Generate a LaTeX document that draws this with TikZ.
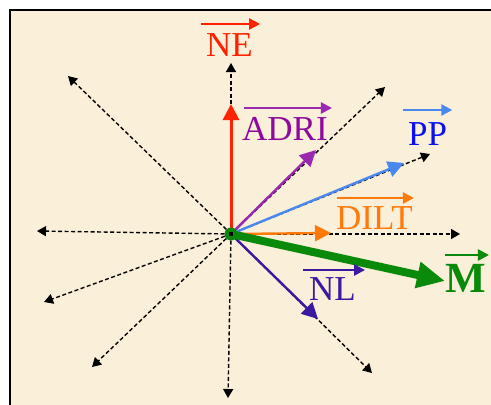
\documentclass[tikz,border=0pt]{standalone}
\usepackage{fontspec}
\setmainfont{Liberation Serif}
\usepackage{xcolor}
\usetikzlibrary{arrows.meta, calc}

\definecolor{parchment}{HTML}{FAEFD8}
\definecolor{nered}{HTML}{FF2200}
\definecolor{adripurple}{HTML}{9A28B0}
\definecolor{adritext}{HTML}{8E0A9E}
\definecolor{ppblue}{HTML}{4A88F0}
\definecolor{pptext}{HTML}{0A10F0}
\definecolor{diltorange}{HTML}{FF7A0A}
\definecolor{mgreen}{HTML}{0A8A0A}
\definecolor{nlindigo}{HTML}{3A1AA0}

\begin{document}
\begin{tikzpicture}[x=1pt, y=-1pt,
    axis/.style={draw, black, line width=1.4pt, dash pattern=on 4pt off 2.5pt, -{Triangle[length=9pt, width=10pt]}},
    vec/.style={draw, line width=2.4pt, -{Triangle[length=16pt, width=16pt]}},
    lbl/.style={font=\fontsize{35}{40}\selectfont, inner sep=0pt, anchor=base west},
    over/.style={draw, line width=2.4pt, -{Triangle[length=11pt, width=11pt]}}]

    % sheet
    \useasboundingbox (0,0) rectangle (491,405);
    \fill[parchment] (10,10) rectangle (491,405);
    \draw[line width=1.6pt] (10,405) -- (10,10) -- (491,10);

    % origin and axis ends
    \coordinate (o) at (231,234);
    \coordinate (n) at (231,63);
    \coordinate (s) at (228,398);
    \coordinate (w) at (37,231);
    \coordinate (e) at (460,234);
    \coordinate (nw) at (68,76);
    \coordinate (wsw) at (44,302);
    \coordinate (sw) at (92,367);
    \coordinate (ne) at (385,87);
    \coordinate (ene) at (430,154);
    \coordinate (se) at (372,373);

    \foreach \tip in {n,s,w,e,nw,wsw,sw,ne,ene,se}
        \path [axis] (o) -- (\tip);

    % vector tips
    \coordinate (neTip) at (231,104);
    \coordinate (adriTip) at (316,150);
    \coordinate (ppTip) at (404,163);
    \coordinate (diltTip) at (331,233);
    \coordinate (nlTip) at (318,319);
    \coordinate (mTip) at (445,281);

    \path [vec, nered, line width=3pt] (o) -- (neTip);
    \path [vec, adripurple] (o) -- (adriTip);
    \path [vec, ppblue] (o) -- (ppTip);
    \path [vec, diltorange] (o) -- (diltTip);
    \path [vec, nlindigo] (o) -- (nlTip);
    \path [draw, mgreen, line width=8pt, -{Triangle[length=28pt, width=25pt]}] (o) -- (mTip);

    % labels
    \node [lbl, text=nered] (neLbl) at (206,56) {NE};
    \node [lbl, text=adritext] (adriLbl) at (242,140) {ADRI};
    \node [lbl, text=pptext] (ppLbl) at (408,145) {PP};
    \node [lbl, text=diltorange] (diltLbl) at (336,229) {DILT};
    \node [lbl, text=nlindigo] (nlLbl) at (309,300) {NL};
    \node [lbl, text=mgreen, font=\fontsize{43}{48}\selectfont\bfseries] (mLbl) at (445,292) {M};

    \path [over, nered] ([shift={(-5,-32)}]neLbl.base west) -- ([shift={(7,-32)}]neLbl.base east);
    \path [over, adripurple] ([shift={(2,-32)}]adriLbl.base west) -- ([shift={(4,-32)}]adriLbl.base east);
    \path [over, ppblue] ([shift={(-5,-35)}]ppLbl.base west) -- ([shift={(5,-35)}]ppLbl.base east);
    \path [over, diltorange] ([shift={(1,-31)}]diltLbl.base west) -- ([shift={(1,-31)}]diltLbl.base east);
    \path [over, nlindigo] ([shift={(-6,-30)}]nlLbl.base west) -- ([shift={(9,-30)}]nlLbl.base east);
    \path [over, mgreen] ([shift={(0,-37)}]mLbl.base west) -- ([shift={(3,-37)}]mLbl.base east);

    % hub
    \node [circle, fill=mgreen, minimum size=13pt, inner sep=0pt] (hub) at (o) {};
    \node [fill=black, minimum size=4pt, inner sep=0pt] at (hub) {};
\end{tikzpicture}
\end{document}
